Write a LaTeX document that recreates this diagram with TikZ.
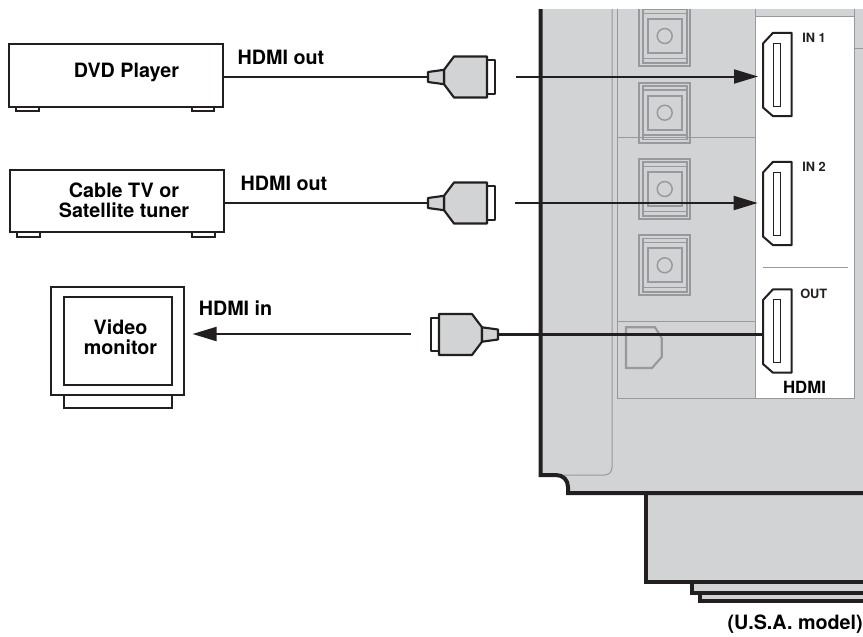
\documentclass[tikz,border=0pt]{standalone}
\usepackage{fontspec}
\setmainfont{TeX Gyre Heros}
\usetikzlibrary{arrows.meta}
\definecolor{panel}{HTML}{D1D3D4}
\definecolor{ink}{HTML}{231F20}
\definecolor{rule}{HTML}{97999C}
\tikzset{
  devbox/.style={draw=ink,line width=1.5pt,fill=white,inner sep=0pt,outer sep=0pt},
  bigtext/.style={font=\fontsize{14.8pt}{15pt}\selectfont\bfseries,text=black,inner sep=0pt,align=center},
  smalltext/.style={font=\fontsize{9.6pt}{11pt}\selectfont\bfseries,text=ink,inner sep=0pt},
  cable/.style={draw=ink,line width=2.2pt},
  signal/.style={draw=ink,line width=1.5pt,-{Triangle[length=18pt,width=10.5pt]}},
  edge/.style={draw=ink,line width=3pt,line join=miter},
  thin rule/.style={draw=rule,line width=.75pt},
  optrule/.style={draw=rule,line width=1.3pt},
  optical/.pic={
    \draw[optrule] (-25.5,-30) rectangle (25.5,30);
    \draw[optrule] (-22,-26.7) rectangle (22,26.7);
    \draw[optrule,line width=1pt] (-22,-22.7) -- (22,-22.7) (-22,22.3) -- (22,22.3);
    \draw[optrule,fill=panel] (-17,-17) rectangle (17,17);
    \draw[optrule,line width=1.1pt] (0,0) circle [radius=5.6pt];
  },
  hdmiport/.pic={
    \draw[ink,line width=1.5pt,fill=white,line join=round] (10,-41.7) -- (28.7,-41.7) -- (28.7,41.7) -- (10,41.7) -- (0,33) -- (0,-31) -- cycle;
    \draw[ink,line width=.7pt] (10.3,-31.5) rectangle (17,31.5);
  },
  plug/.pic={
    \draw[ink,line width=1.4pt,fill=white,line join=round] (59,-16.7) rectangle (67,16.7);
    \draw[ink,line width=1.6pt,fill=panel,line join=round] (16,-7.2) -- (26,-20.5) -- (59,-20.5) -- (59,20.5) -- (26,20.5) -- (16,7.2) -- cycle;
    \draw[ink,line width=1.6pt,fill=panel,line join=round] (0,-5) -- (16,-7.2) -- (16,7.2) -- (0,5) -- cycle;
  }
}
\begin{document}
\begin{tikzpicture}[x=.75pt,y=-.75pt]
\useasboundingbox (0,0) rectangle (863,636);
% receiver body
\fill[panel] (540.7,9) -- (540.7,475) -- (556,475) .. controls (563,475) and (568,480) .. (568,487) -- (568,493) -- (863,493) -- (863,9) -- cycle;
\fill[panel] (646,493) -- (646,582) -- (692,582) -- (692,592.5) -- (700,592.5) -- (700,601) -- (863,601) -- (863,493) -- cycle;
% white HDMI panel
\fill[white] (755,16) rectangle (854,398);
\draw[thin rule] (612,9) -- (612,467) .. controls (612,472) and (609,475) .. (604,475) -- (555,475);
\draw[thin rule] (617.5,9) -- (617.5,398) -- (854,398) -- (854,9);
\draw[thin rule] (755,9) -- (755,398);
\draw[thin rule] (755,16) -- (854,16);
\draw[thin rule] (854,48) -- (863,48);
\draw[thin rule] (617.5,137.7) -- (755,137.7);
\draw[thin rule] (617.5,321) -- (755,321);
\draw[thin rule] (763,267) -- (848,267);
\begin{scope}
\clip (540,9) rectangle (863,400);
\pic at (664.7,36) {optical};
\pic at (664.7,112.7) {optical};
\pic at (664.7,189) {optical};
\pic at (664.7,265.3) {optical};
\end{scope}
\draw[rule,line width=1.6pt] (626,327.3) -- (655,327.3) -- (661.7,338) -- (661.7,357) -- (652,368) -- (626,368) -- cycle;
% thick outline
\draw[edge] (540.7,9) -- (540.7,475) -- (556,475) .. controls (563,475) and (568,480) .. (568,487) -- (568,493) -- (863,493);
\draw[edge] (646,493) -- (646,582) -- (863,582);
\draw[edge] (692,582) -- (692,592.5) -- (863,592.5);
\draw[edge] (700,592.5) -- (700,601) -- (863,601);
% HDMI sockets
\pic at (763,74.5) {hdmiport};
\pic at (763,203.5) {hdmiport};
\pic at (763,331) {hdmiport};
\coordinate (in1) at (758,76.5);
\coordinate (in2) at (757.7,203);
\coordinate (outport) at (763,334.5);
\node[smalltext,anchor=west] (lin1) at (802,37.5) {IN 1};
\node[smalltext,anchor=west] (lin2) at (802,166.5) {IN 2};
\node[smalltext,anchor=west] (lout) at (800,294) {OUT};
\node[bigtext,font=\fontsize{12.6pt}{14pt}\selectfont\bfseries] (lhdmi) at (804.5,387.5) {HDMI};
% DVD player
\draw[ink,line width=1.5pt] (16,106) rectangle (39,111);
\draw[ink,line width=1.5pt] (191.5,106) rectangle (214,111);
\node[devbox,minimum width=160.5pt,minimum height=46.9pt] (dvd) at (116,75.3) {};
\node[bigtext] (tdvd) at (126.5,72.5) {DVD Player};
\node[bigtext] (hout1) at (281,57) {HDMI out};
% Cable TV
\draw[ink,line width=1.5pt] (16.5,232) rectangle (39.5,237);
\draw[ink,line width=1.5pt] (192,232) rectangle (214.5,237);
\node[devbox,minimum width=160.5pt,minimum height=46.9pt] (catv) at (117.3,201) {};
\node[bigtext] (tcatv) at (124,200) {Cable TV or\\Satellite tuner};
\node[bigtext] (hout2) at (284,183) {HDMI out};
% Monitor
\node[devbox,minimum width=81pt,minimum height=9.75pt,anchor=north] (stand) at (117.5,395) {};
\node[devbox,minimum width=99.75pt,minimum height=81pt] (mon) at (117.5,341) {};
\node[devbox,minimum width=81pt,minimum height=65.6pt] (screen) at (117.5,341.2) {};
\node[bigtext] (tmon) at (120.5,337) {Video\\monitor};
\node[bigtext,anchor=west] (hin) at (198.5,308.5) {HDMI in};
% cables and plugs
\coordinate (p1) at (428,77);
\coordinate (p2) at (428,203);
\coordinate (p3) at (498,334.5);
\draw[cable] (dvd.east |- p1) -- (p1);
\draw[cable] (catv.east |- p2) -- (p2);
\draw[cable] (p3) -- (outport);
\pic at (p1) {plug};
\pic at (p2) {plug};
\pic[xscale=-1] at (p3) {plug};
% signal arrows
\coordinate (a1) at (515.7,76.5);
\coordinate (a2) at (515,203);
\coordinate (a3) at (411,334);
\coordinate (monin) at (192.5,334);
\draw[signal] (a1) -- (in1);
\draw[signal] (a2) -- (in2);
\draw[signal] (a3) -- (monin);
\node[bigtext,anchor=east] (usa) at (863,624) {(U.S.A. model)};
\end{tikzpicture}
\end{document}
